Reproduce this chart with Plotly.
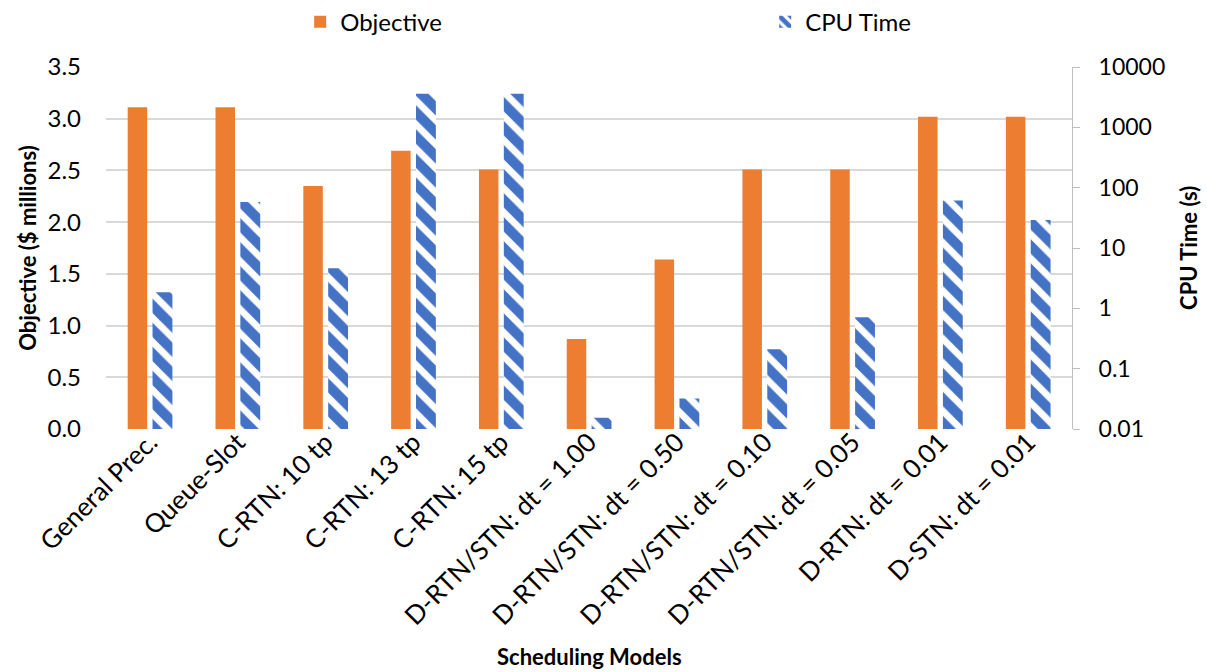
import plotly.graph_objects as go

categories = [
    "General Prec.", "Queue-Slot", "C-RTN: 10 tp", "C-RTN: 13 tp", "C-RTN: 15 tp",
    "D-RTN/STN: dt = 1.00", "D-RTN/STN: dt = 0.50", "D-RTN/STN: dt = 0.10",
    "D-RTN/STN: dt = 0.05", "D-RTN: dt = 0.01", "D-STN: dt = 0.01",
]
objective = [3.11, 3.11, 2.35, 2.69, 2.51, 0.87, 1.64, 2.51, 2.51, 3.02, 3.02]
cpu_time = [1.85, 58, 4.6, 3600, 3600, 0.0153, 0.032, 0.21, 0.71, 61, 29]

left_ticks = [0, 0.5, 1.0, 1.5, 2.0, 2.5, 3.0, 3.5]
right_ticks = [0.01, 0.1, 1, 10, 100, 1000, 10000]
right_tick_text = ["0.01", "0.1", "1", "10", "100", "1000", "10000"]

FONT = "Lato, 'Liberation Sans', sans-serif"
ORANGE = "#ED7D31"
BLUE = "#4472C4"
GRID = "#D9D9D9"

fig = go.Figure()
fig.add_trace(go.Bar(
    x=categories, y=objective, name="Objective",
    marker=dict(color=ORANGE, line=dict(width=0)),
    width=0.222, offset=-0.253, yaxis="y",
))
fig.add_trace(go.Bar(
    x=categories, y=cpu_time, name="CPU Time",
    marker=dict(color="white", line=dict(width=0),
                pattern=dict(shape="\\", fgcolor=BLUE, bgcolor="white",
                             fillmode="replace", size=17, solidity=0.6)),
    width=0.226, offset=0.030, yaxis="y2",
))

fig.update_layout(
    width=1207, height=672,
    margin=dict(l=106, r=135, t=67, b=243, autoexpand=False),
    paper_bgcolor="white", plot_bgcolor="white",
    font=dict(family=FONT, size=24, color="#000000"),
    barmode="overlay",
    showlegend=True,
    legend=dict(orientation="h", x=0.201, y=0.967, xref="paper", yref="container",
                xanchor="left", yanchor="middle",
                entrywidth=420, entrywidthmode="pixels",
                font=dict(size=24), itemclick=False, bgcolor="rgba(0,0,0,0)"),
    xaxis=dict(type="category", tickangle=-45, showgrid=False, showline=False,
               ticks="", tickfont=dict(size=26), automargin=False,
               ticklabelstandoff=-8,
               range=[-0.5, len(categories) - 0.5]),
    yaxis=dict(range=[0, 3.5], tickvals=left_ticks, tickformat=".1f",
               showgrid=True, gridcolor=GRID, gridwidth=1.5, zeroline=False,
               showline=False, ticks="", ticklabelstandoff=24, automargin=False,
               tickfont=dict(size=24)),
    yaxis2=dict(type="log", range=[-2, 4], overlaying="y", side="right",
                tickvals=right_ticks, ticktext=right_tick_text,
                showgrid=False, showline=True, linecolor="#BFBFBF", linewidth=1,
                ticks="outside", ticklen=7, tickcolor="#BFBFBF", automargin=False,
                ticklabelstandoff=14, tickfont=dict(size=23)),
    annotations=[
        dict(text="<b>Objective ($ millions)</b>", xref="paper", yref="paper",
             x=-0.082, y=0.5, xanchor="center", yanchor="middle", textangle=-90,
             showarrow=False, font=dict(size=22)),
        dict(text="<b>CPU Time (s)</b>", xref="paper", yref="paper",
             x=1.12, y=0.5, xanchor="center", yanchor="middle", textangle=-90,
             showarrow=False, font=dict(size=22)),
        dict(text="<b>Scheduling Models</b>", xref="paper", yref="paper",
             x=0.5, y=-0.629, xanchor="center", yanchor="middle",
             showarrow=False, font=dict(size=22)),
    ],
)

fig.write_html("out.html", config={"displayModeBar": False},
               post_script="document.body.style.margin='0px';")
